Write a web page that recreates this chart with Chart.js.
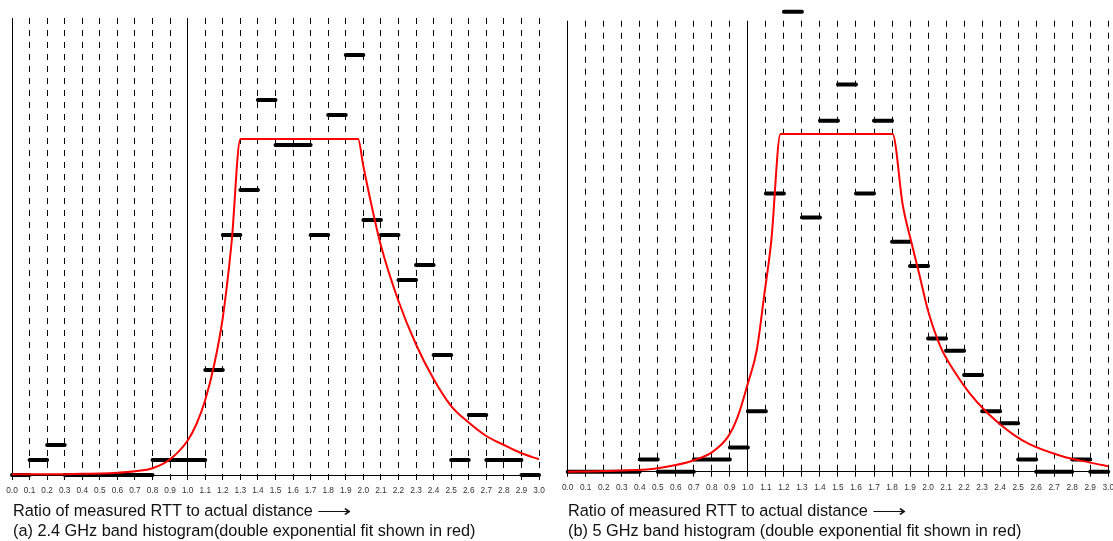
<!DOCTYPE html>
<html>
<head>
<meta charset="utf-8">
<script src="https://cdn.jsdelivr.net/npm/chart.js@4.4.1/dist/chart.umd.min.js"></script>
<style>
  html, body { margin: 0; padding: 0; background: #fff; overflow: hidden; width: 1113px; height: 541px; position: relative; }
  canvas { position: absolute; top: 0; }
  #chartA { left: 0; }
  #chartB { left: 555px; }
  .txt { position: absolute; font-family: "Liberation Sans", Arial, sans-serif; font-size: 16.3px; line-height: 20px; color: #111; white-space: nowrap; }
  .arrow { display: inline-block; transform: scaleX(1.5); transform-origin: left center; }
</style>
</head>
<body>
<canvas id="chartA" width="556" height="541"></canvas>
<canvas id="chartB" width="565" height="541"></canvas>
<div class="txt" style="left:13px; top:500px">Ratio of measured RTT to actual distance <span class="arrow">⟶</span></div>
<div class="txt" style="left:13px; top:520px">(a) 2.4 GHz band histogram(double exponential fit shown in red)</div>
<div class="txt" style="left:568px; top:500px">Ratio of measured RTT to actual distance <span class="arrow">⟶</span></div>
<div class="txt" style="left:568px; top:520px">(b) 5 GHz band histogram (double exponential fit shown in red)</div>
<script>
// histogram bins (start of each 0.1 wide bin)
const binStarts = [0.0, 0.1, 0.2, 0.3, 0.4, 0.5, 0.6, 0.7, 0.8, 0.9,
                   1.0, 1.1, 1.2, 1.3, 1.4, 1.5, 1.6, 1.7, 1.8, 1.9,
                   2.0, 2.1, 2.2, 2.3, 2.4, 2.5, 2.6, 2.7, 2.8, 2.9];
const binWidth = 0.1;

// (a) 2.4 GHz counts
const countsA = [0, 1, 2, 0, 0, 0, 0, 0, 1, 1,
                 1, 7, 16, 19, 25, 22, 22, 16, 24, 28,
                 17, 16, 13, 14, 8, 1, 4, 1, 1, 0];
// (b) 5 GHz counts
const countsB = [0, 0, 0, 0, 1, 0, 0, 1, 1, 2,
                 5, 23, 38, 21, 29, 32, 23, 29, 19, 17,
                 11, 10, 8, 5, 4, 1, 0, 0, 1, 0];

// red fit curves
const fitAx = [0.0, 0.2, 0.4, 0.5, 0.6, 0.7, 0.8, 0.9, 1.0, 1.05, 1.1, 1.15, 1.2, 1.25, 1.3,
               1.97, 2.0, 2.05, 2.1, 2.2, 2.3, 2.4, 2.5, 2.6, 2.7, 2.8, 2.9, 3.0];
const fitAy = [0.05, 0.05, 0.08, 0.1, 0.15, 0.25, 0.45, 1.05, 2.3, 3.4, 5.0, 7.3, 10.5, 15.5, 22.4,
               22.4, 20.6, 17.8, 15.3, 11.6, 8.7, 6.4, 4.6, 3.5, 2.6, 2.0, 1.45, 1.05];

const fitBx = [0.0, 0.2, 0.48, 0.6, 0.7, 0.8, 0.89, 0.94, 1.0, 1.05, 1.09, 1.13, 1.181,
               1.803, 1.86, 1.905, 1.95, 2.0, 2.07, 2.15, 2.23, 2.32, 2.41, 2.48, 2.56, 2.74, 2.9, 3.0];
const fitBy = [0.0, 0.06, 0.25, 0.55, 0.95, 1.6, 2.9, 4.4, 7.3, 10.1, 14.5, 19.1, 27.9,
               27.9, 22.0, 19.1, 16.4, 13.3, 10.3, 8.2, 6.5, 5.0, 3.8, 3.0, 2.3, 1.3, 0.75, 0.45];

const yMaxA = 30.47;
const yMaxB = 37.27;

function barPoints(counts) {
  const pts = [];
  binStarts.forEach((s, i) => {
    const e = Math.round((s + binWidth) * 10) / 10;
    pts.push({x: s, y: counts[i]});
    pts.push({x: e, y: counts[i]});
    pts.push({x: e, y: null});
  });
  return pts;
}

function fitPoints(xs, ys) {
  return xs.map((x, i) => ({x: x, y: ys[i]}));
}

function isSolid(v) {
  return Math.abs(v) < 1e-6 || Math.abs(v - 1) < 1e-6;
}

function makeChart(id, counts, fx, fy, yMax, pad, axisH) {
  return new Chart(document.getElementById(id), {
    type: 'line',
    data: {
      datasets: [
        {
          data: fitPoints(fx, fy),
          borderColor: '#ff0000',
          borderWidth: 2,
          pointRadius: 0,
          cubicInterpolationMode: 'monotone',
          clip: false,
          order: 0
        },
        {
          data: barPoints(counts),
          borderColor: '#000',
          borderWidth: 4,
          borderCapStyle: 'round',
          pointRadius: 0,
          spanGaps: false,
          clip: false,
          order: 1
        }
      ]
    },
    options: {
      responsive: false,
      animation: false,
      events: [],
      layout: { padding: pad },
      plugins: { legend: { display: false }, tooltip: { enabled: false } },
      scales: {
        x: {
          type: 'linear',
          min: 0,
          max: 3,
          afterFit: s => { s.height = axisH; },
          ticks: {
            stepSize: 0.1,
            autoSkip: false,
            maxRotation: 0,
            padding: 6,
            color: '#333',
            font: { family: 'Liberation Sans', size: 8.3 },
            callback: v => v.toFixed(1)
          },
          grid: {
            color: '#000',
            lineWidth: 1,
            tickLength: 5,
            tickColor: '#000',
            tickBorderDash: []
          },
          border: {
            display: true,
            color: '#000',
            width: 1,
            dash: ctx => (ctx.tick && !isSolid(ctx.tick.value)) ? [6, 6] : []
          }
        },
        y: {
          display: false,
          min: 0,
          max: yMax
        }
      }
    }
  });
}

makeChart('chartA', countsA, fitAx, fitAy, yMaxA, {left: 12, top: 18, right: 17, bottom: 0}, 66);
makeChart('chartB', countsB, fitBx, fitBy, yMaxB, {left: 12.7, top: 20.7, right: 10.4, bottom: 0}, 69.3);
</script>
</body>
</html>
